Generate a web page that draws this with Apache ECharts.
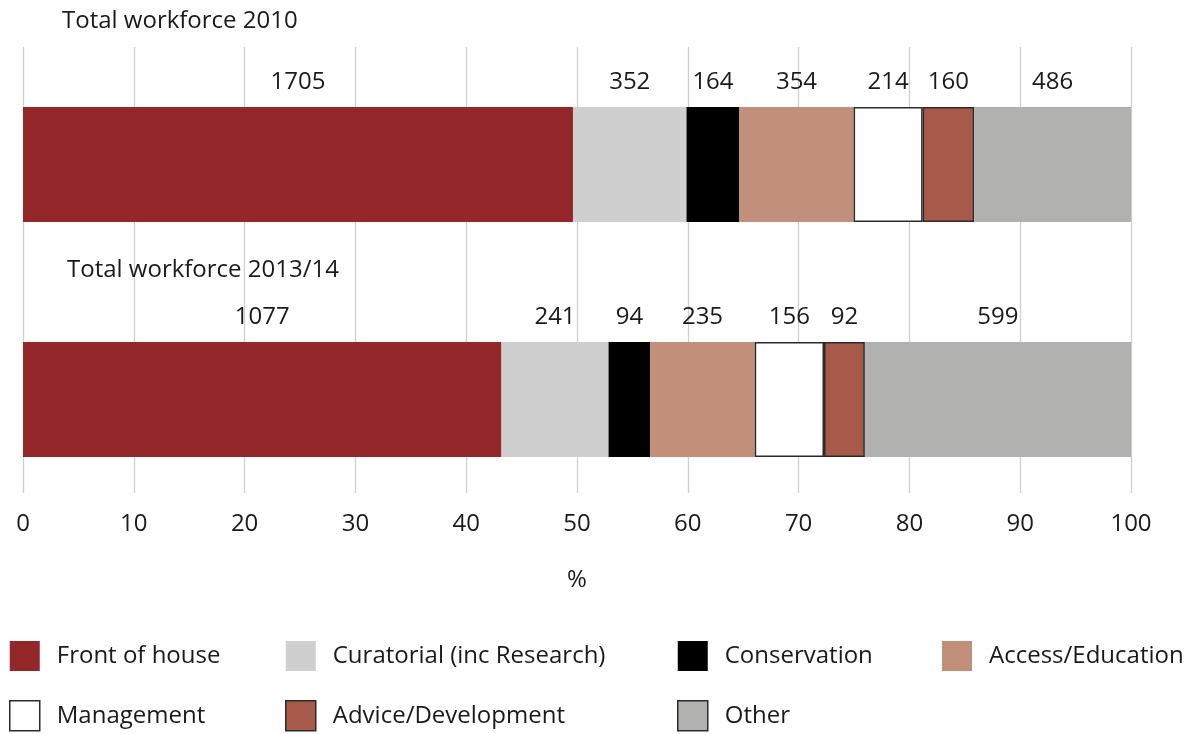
<!DOCTYPE html>
<html>
<head>
<meta charset="utf-8">
<title>Total workforce by function</title>
<script src="https://cdn.jsdelivr.net/npm/echarts@6/dist/echarts.min.js"></script>
<style>
  html, body { margin: 0; padding: 0; background: #ffffff; }
  #chart { width: 1185px; height: 734px; }
</style>
</head>
<body>
<div id="chart"></div>
<script>
// Headcount by function, two survey years
const years = ['2010', '2013/14'];
const yearTitles = ['Total workforce 2010', 'Total workforce 2013/14'];
const functions = [
  'Front of house',
  'Curatorial (inc Research)',
  'Conservation',
  'Access/Education',
  'Management',
  'Advice/Development',
  'Other'
];
const staff2010 = [1705, 352, 164, 354, 214, 160, 486];
const staff201314 = [1077, 241, 94, 235, 156, 92, 599];
const percentTicks = [0, 10, 20, 30, 40, 50, 60, 70, 80, 90, 100];

const fills = ['#93272a', '#cfcfcf', '#000000', '#c28f7b', '#ffffff', '#a85a4a', '#b1b1b0'];
const outlined = [false, false, false, false, true, true, false];

const FONT = '"Open Sans", "Liberation Sans", sans-serif';
const INK = '#1a1a1a';

const byYear = [staff2010, staff201314];
const totals = byYear.map(arr => arr.reduce((a, b) => a + b, 0));

const series = functions.map((name, i) => ({
  name: name,
  type: 'bar',
  stack: 'all',
  barWidth: 115,
  data: byYear.map((arr, y) => arr[i] / totals[y] * 100),
  itemStyle: {
    color: fills[i],
    borderColor: outlined[i] ? '#2b2b2b' : fills[i],
    borderWidth: outlined[i] ? 1.5 : 0
  },
  label: {
    show: true,
    position: 'top',
    distance: 13,
    fontFamily: FONT,
    fontSize: 24,
    color: INK,
    formatter: p => String(byYear[p.dataIndex][i])
  },
  emphasis: { disabled: true }
}));

// legend laid out as a four-column grid
const legendColumns = [
  { left: 9, names: [0, 4] },
  { left: 285, names: [1, 5] },
  { left: 677, names: [2, 6] },
  { left: 942, names: [3] }
];
const legends = legendColumns.map(col => ({
  orient: 'vertical',
  left: col.left,
  top: 641,
  padding: 0,
  itemWidth: 30,
  itemHeight: 30,
  itemGap: 29,
  icon: 'rect',
  selectedMode: false,
  textStyle: { fontFamily: FONT, fontSize: 24, color: INK, padding: [0, 0, 0, 12] },
  data: col.names.map(k => ({
    name: functions[k],
    itemStyle: (k === 6 || outlined[k])
      ? { borderColor: '#2b2b2b', borderWidth: 1.5 }
      : { borderWidth: 0 }
  }))
}));

const titles = [
  { text: yearTitles[0], left: 62, top: 9 },
  { text: yearTitles[1], left: 67, top: 258 }
].map(t => Object.assign(t, {
  padding: 0,
  textStyle: { fontFamily: FONT, fontSize: 24, fontWeight: 'normal', color: INK }
}));

const chart = echarts.init(document.getElementById('chart'), null, { renderer: 'canvas' });
chart.setOption({
  animation: false,
  backgroundColor: '#ffffff',
  title: titles,
  legend: legends,
  grid: { left: 23, right: 54, top: 47, height: 470 },
  xAxis: {
    type: 'value',
    min: percentTicks[0],
    max: percentTicks[percentTicks.length - 1],
    interval: 10,
    offset: -24,
    name: '%',
    nameLocation: 'middle',
    nameGap: 75,
    nameTextStyle: { fontFamily: FONT, fontSize: 24, color: INK },
    axisLine: { show: false },
    axisTick: { show: true, inside: true, length: 446, lineStyle: { color: '#cfcfcf', width: 1.3 } },
    splitLine: { show: false },
    axisLabel: { fontFamily: FONT, fontSize: 24, color: INK, margin: 19 }
  },
  yAxis: {
    type: 'category',
    data: years,
    inverse: true,
    show: false
  },
  series: series
});
</script>
</body>
</html>
